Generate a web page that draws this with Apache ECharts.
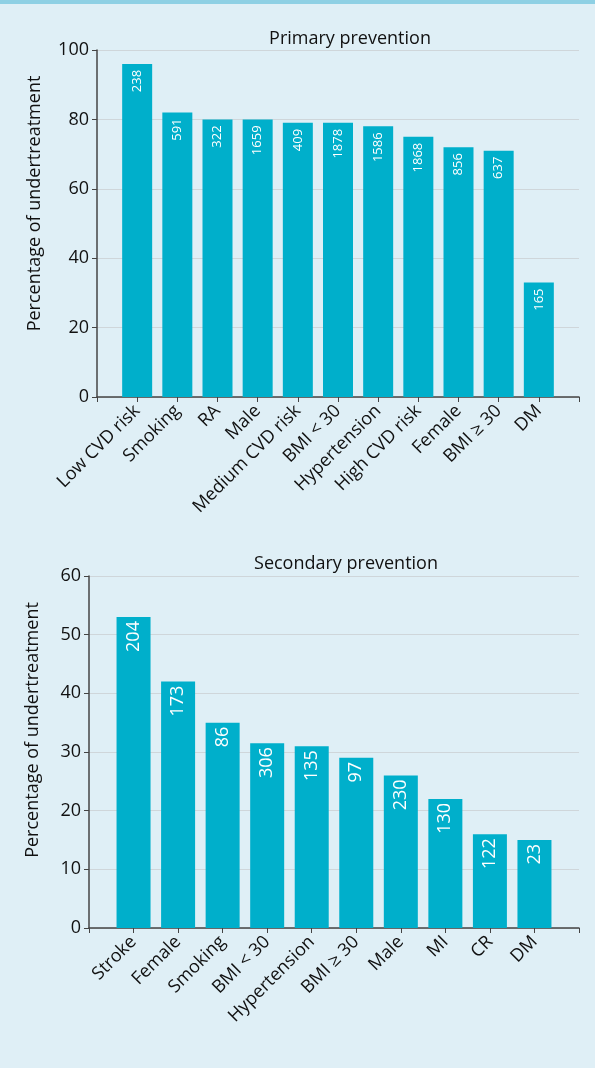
<!DOCTYPE html>
<html><head><meta charset="utf-8">
<script src="https://cdn.jsdelivr.net/npm/echarts@6/dist/echarts.min.js"></script>
<style>html,body{margin:0;padding:0;background:#dfeff6;}#top{height:4px;background:#8ed0e4;}#c{width:595px;height:1064px;}</style>
</head><body><div id="top"></div><div id="c"></div>
<script>
const primaryCategories = ['Low CVD risk','Smoking','RA','Male','Medium CVD risk','BMI < 30','Hypertension','High CVD risk','Female','BMI \u2265 30','DM'];
const primaryValues = [96, 82, 80, 80, 79, 79, 78, 75, 72, 71, 33];
const primaryN = ['238','591','322','1659','409','1878','1586','1868','856','637','165'];
const primaryTicks = [0, 20, 40, 60, 80, 100];

const secondaryCategories = ['Stroke','Female','Smoking','BMI < 30','Hypertension','BMI \u2265 30','Male','MI','CR','DM'];
const secondaryValues = [53, 42, 35, 31.5, 31, 29, 26, 22, 16, 15];
const secondaryN = ['204','173','86','306','135','97','230','130','122','23'];
const secondaryTicks = [0, 10, 20, 30, 40, 50, 60];

const FONT = 'Open Sans';
const barColor = '#00afcb';
const axisColor = '#444';

function pad(arr){ return [''].concat(arr, ['']); }
function padData(vals, ns){ return [null].concat(vals.map((v,i)=>({value:v, n:ns[i]})), [null]); }

const chart = echarts.init(document.getElementById('c'), null, {renderer:'canvas'});
function xAx(gi, cats, fs){
  return {gridIndex:gi, type:'category', data:pad(cats), boundaryGap:false,
    axisLine:{lineStyle:{color:axisColor, width:1.5}},
    axisTick:{interval:0, length:5, lineStyle:{color:axisColor}},
    axisLabel:{interval:0, rotate:45, fontFamily:FONT, fontSize:fs, color:'#111', margin:11},
    splitLine:{show:false}};
}
function yAx(gi, ticks, gap, shift){
  return {gridIndex:gi, type:'value', min:ticks[0], max:ticks[ticks.length-1], interval:ticks[1]-ticks[0],
    name:'Percentage of undertreatment', nameLocation:'middle', nameGap:gap,
    nameTextStyle:{fontFamily:FONT, fontSize:18, color:'#111', padding:[0,0,0,shift]},
    axisLine:{show:true, lineStyle:{color:axisColor, width:1.5}},
    axisTick:{show:true, length:5, lineStyle:{color:axisColor}},
    axisLabel:{fontFamily:FONT, fontSize:18, color:'#111', margin:8},
    splitLine:{lineStyle:{color:'#cfd6da', width:1.2}}};
}
chart.setOption({
  backgroundColor:'#dfeff6',
  animation:false,
  title:[
    {text:'Primary prevention', left:345, top:21, textAlign:'center', textStyle:{fontFamily:FONT, fontSize:18, fontWeight:'normal', color:'#111'}},
    {text:'Secondary prevention', left:341, top:546, textAlign:'center', textStyle:{fontFamily:FONT, fontSize:18, fontWeight:'normal', color:'#111'}}
  ],
  grid:[
    {left:97, top:46, width:482, height:347},
    {left:89, top:572, width:490, height:352}
  ],
  xAxis:[xAx(0, primaryCategories, 18), xAx(1, secondaryCategories, 18)],
  yAxis:[yAx(0, primaryTicks, 53, 40), yAx(1, secondaryTicks, 47, 44)],
  series:[
    {type:'bar', xAxisIndex:0, yAxisIndex:0, barWidth:30, data:padData(primaryValues, primaryN),
      itemStyle:{color:barColor},
      label:{show:true, position:'insideTop', rotate:90, align:'right', verticalAlign:'middle', distance:6,
        color:'#fff', fontFamily:FONT, fontSize:13, formatter:p=>p.data.n}},
    {type:'bar', xAxisIndex:1, yAxisIndex:1, barWidth:34, data:padData(secondaryValues, secondaryN),
      itemStyle:{color:barColor},
      label:{show:true, position:'insideTop', rotate:90, align:'right', verticalAlign:'middle', distance:4,
        color:'#fff', fontFamily:FONT, fontSize:18, formatter:p=>p.data.n}}
  ]
});
</script></body></html>
